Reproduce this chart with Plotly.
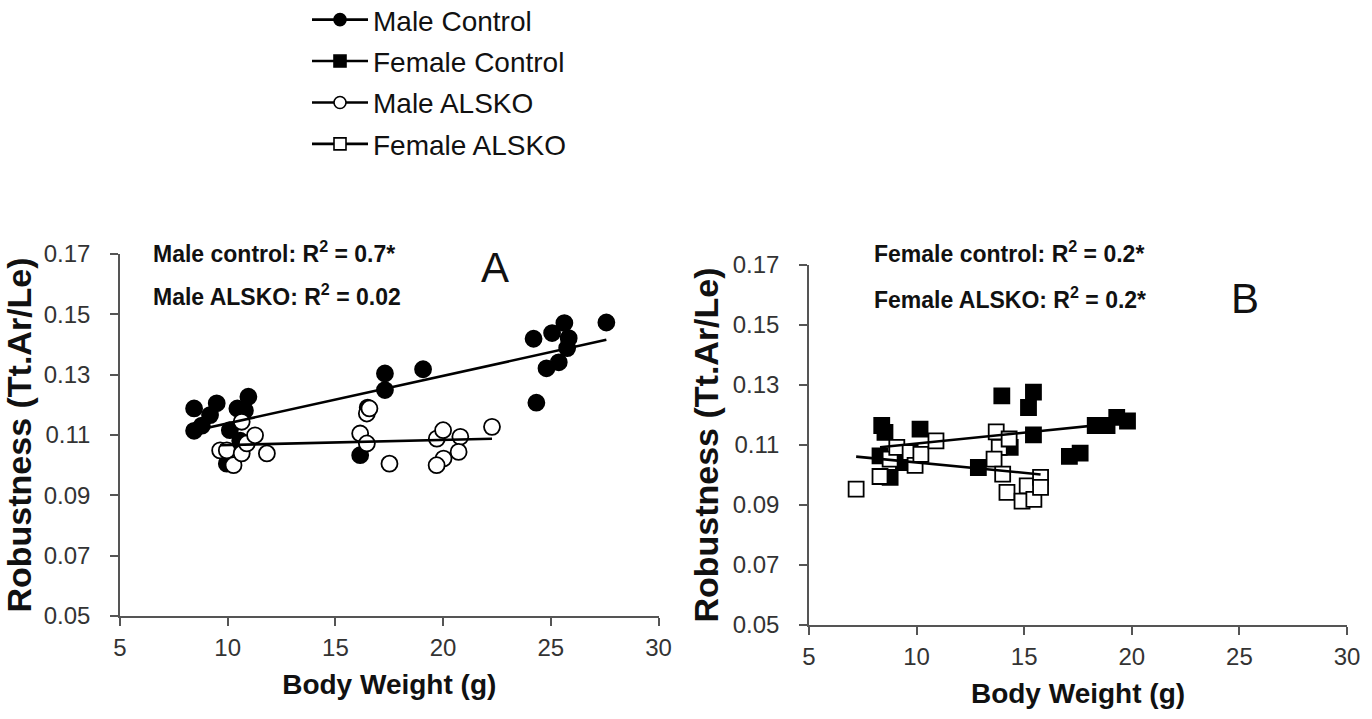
import numpy as np
import plotly.graph_objects as go

# ---------------- data ----------------
male_ctrl_x = [8.44, 8.44, 8.8, 9.18, 9.49, 10.1, 9.96, 10.45, 10.96, 10.8, 10.58,
               16.15, 16.5, 17.3, 17.3, 19.07, 24.2, 25.06, 25.63, 25.83, 25.76,
               25.37, 24.8, 24.33, 27.58]
male_ctrl_y = [0.1188, 0.1114, 0.1131, 0.1166, 0.1205, 0.1116, 0.1005, 0.1188, 0.1227,
               0.1181, 0.1081, 0.1033, 0.1191, 0.1304, 0.1249, 0.1318, 0.1419, 0.1438,
               0.1471, 0.1421, 0.1388, 0.1341, 0.1321, 0.1207, 0.1473]

male_ko_x = [9.65, 9.96, 10.27, 10.65, 10.65, 10.89, 11.27, 11.82, 16.15, 16.46,
             16.46, 16.58, 17.51, 19.71, 20.0, 20.8, 20.72, 20.02, 19.7, 22.27]
male_ko_y = [0.1049, 0.1049, 0.1000, 0.1039, 0.1144, 0.1072, 0.1099, 0.1039, 0.1105,
             0.1072, 0.1171, 0.1188, 0.1005, 0.1088, 0.1116, 0.1094, 0.1044, 0.1022,
             0.1000, 0.1127]

fem_ctrl_x = [8.38, 8.53, 8.3, 8.77, 9.39, 10.16, 12.87, 13.96, 14.35, 15.43, 15.2,
              15.43, 17.1, 17.6, 18.3, 18.85, 19.3, 19.8]
fem_ctrl_y = [0.1165, 0.1142, 0.1064, 0.0992, 0.1041, 0.1153, 0.1025, 0.1264, 0.1092,
              0.1276, 0.1225, 0.1134, 0.1062, 0.1073, 0.1165, 0.1165, 0.1192, 0.1180]

fem_ko_x = [7.19, 8.3, 8.77, 9.08, 9.7, 9.93, 10.2, 10.9, 13.7, 13.84, 13.6, 14.3,
            14.0, 14.2, 15.14, 14.9, 15.45, 15.76, 15.76]
fem_ko_y = [0.0953, 0.0995, 0.1053, 0.1092, 0.1075, 0.1032, 0.1069, 0.1114, 0.1144,
            0.1092, 0.1053, 0.1120, 0.1003, 0.0942, 0.0964, 0.0913, 0.0919, 0.0992, 0.0959]

x_ticks = [5, 10, 15, 20, 25, 30]
y_ticks = [0.05, 0.07, 0.09, 0.11, 0.13, 0.15, 0.17]
y_tick_text = ["0.05", "0.07", "0.09", "0.11", "0.13", "0.15", "0.17"]

legend_names = ["Male Control", "Female Control", "Male ALSKO", "Female ALSKO"]
annot_A = ["Male control: R<sup>2</sup> = 0.7*", "Male ALSKO: R<sup>2</sup> = 0.02"]
annot_B = ["Female control: R<sup>2</sup> = 0.2*", "Female ALSKO: R<sup>2</sup> = 0.2*"]
panel_labels = ["A", "B"]

FONT = "Liberation Sans, Arial, sans-serif"
W, H = 1372, 719

fig = go.Figure()


def fit_line(xs, ys):
    k, b = np.polyfit(xs, ys, 1)
    xx = np.array([min(xs), max(xs)])
    return xx, k * xx + b


def add_group(xs, ys, symbol, filled, xa, ya):
    fig.add_trace(go.Scatter(
        x=xs, y=ys, mode="markers", xaxis=xa, yaxis=ya, showlegend=False,
        marker=dict(symbol=symbol, size=16 if symbol == "circle" else 15,
                    color="black" if filled else "white",
                    line=dict(color="black", width=1.8)),
        hoverinfo="skip"))


def add_fit(xs, ys, xa, ya):
    fx, fy = fit_line(xs, ys)
    fig.add_trace(go.Scatter(x=fx, y=fy, mode="lines", xaxis=xa, yaxis=ya,
                             showlegend=False, line=dict(color="black", width=2.6),
                             hoverinfo="skip"))


# Panel A
add_group(male_ctrl_x, male_ctrl_y, "circle", True, "x", "y")
add_group(male_ko_x, male_ko_y, "circle", False, "x", "y")
add_fit(male_ctrl_x, male_ctrl_y, "x", "y")
add_fit(male_ko_x, male_ko_y, "x", "y")

# Panel B
add_group(fem_ctrl_x, fem_ctrl_y, "square", True, "x2", "y2")
add_group(fem_ko_x, fem_ko_y, "square", False, "x2", "y2")
add_fit(fem_ctrl_x, fem_ctrl_y, "x2", "y2")
add_fit(fem_ko_x, fem_ko_y, "x2", "y2")

# Legend entries
leg_specs = [("circle", True), ("square", True), ("circle", False), ("square", False)]
for i, (name, (sym, filled)) in enumerate(zip(legend_names, leg_specs)):
    fig.add_trace(go.Scatter(
        x=[None], y=[None], mode="lines+markers", name=name, legendgroup=str(i),
        line=dict(color="black", width=2.6),
        marker=dict(symbol=sym, size=12, color="black" if filled else "white",
                    line=dict(color="black", width=1.6))))

axis_common = dict(showgrid=False, zeroline=False, showline=True, linecolor="#555",
                   linewidth=1.6, ticks="outside", ticklen=8, tickcolor="#555",
                   tickwidth=1.6, automargin=False,
                   tickfont=dict(family=FONT, size=24, color="#333"))

xtitle = dict(text="<b>Body Weight (g)</b>", font=dict(size=28, family=FONT, color="#111"),
              standoff=15)
ytitle = dict(text="<b>Robustness (Tt.Ar/Le)</b>", font=dict(size=34, family=FONT, color="#111"),
              standoff=4)

fig.update_layout(
    width=W, height=H, margin=dict(l=0, r=0, t=0, b=0, autoexpand=False),
    paper_bgcolor="white", plot_bgcolor="white",
    font=dict(family=FONT, color="black"),
    showlegend=True,
    legend=dict(x=307 / W, y=1.007, xanchor="left", yanchor="top",
                font=dict(family=FONT, size=28, color="#111"),
                traceorder="grouped", tracegroupgap=2, itemwidth=56,
                bgcolor="rgba(0,0,0,0)"),
    xaxis=dict(domain=[120 / W, 658.5 / W], range=[5, 30], tickvals=x_ticks,
               anchor="y", title=xtitle, ticklabelstandoff=1, **axis_common),
    yaxis=dict(domain=[(H - 616) / H, (H - 254) / H], range=[0.05, 0.17],
               tickvals=y_ticks, ticktext=y_tick_text, anchor="x", title=ytitle,
               ticklabelstandoff=15, **axis_common),
    xaxis2=dict(domain=[809 / W, 1347 / W], range=[5, 30], tickvals=x_ticks,
                anchor="y2", title=xtitle, ticklabelstandoff=1, **axis_common),
    yaxis2=dict(domain=[(H - 625) / H, (H - 265) / H], range=[0.05, 0.17],
                tickvals=y_ticks, ticktext=y_tick_text, anchor="x2", title=ytitle,
                ticklabelstandoff=15, **axis_common),
)

annots = []
for i, t in enumerate(annot_A):
    annots.append(dict(text="<b>" + t + "</b>", xref="paper", yref="paper",
                       x=151 / W, y=1 - (252 + 43 * i) / H, xanchor="left",
                       yanchor="middle", showarrow=False,
                       font=dict(family=FONT, size=23, color="#111")))
for i, t in enumerate(annot_B):
    annots.append(dict(text="<b>" + t + "</b>", xref="paper", yref="paper",
                       x=872 / W, y=1 - (252 + 46 * i) / H, xanchor="left",
                       yanchor="middle", showarrow=False,
                       font=dict(family=FONT, size=23, color="#111")))
for lab, (px, py) in zip(panel_labels, [(495, 267), (1245, 298)]):
    annots.append(dict(text=lab, xref="paper", yref="paper", x=px / W, y=1 - py / H,
                       xanchor="center", yanchor="middle", showarrow=False,
                       font=dict(family=FONT, size=42, color="#111")))
fig.update_layout(annotations=annots)

fig.write_html("out.html",
               config={"displayModeBar": False},
               post_script="document.body.style.margin='0';"
                           "document.body.style.overflow='hidden';")
